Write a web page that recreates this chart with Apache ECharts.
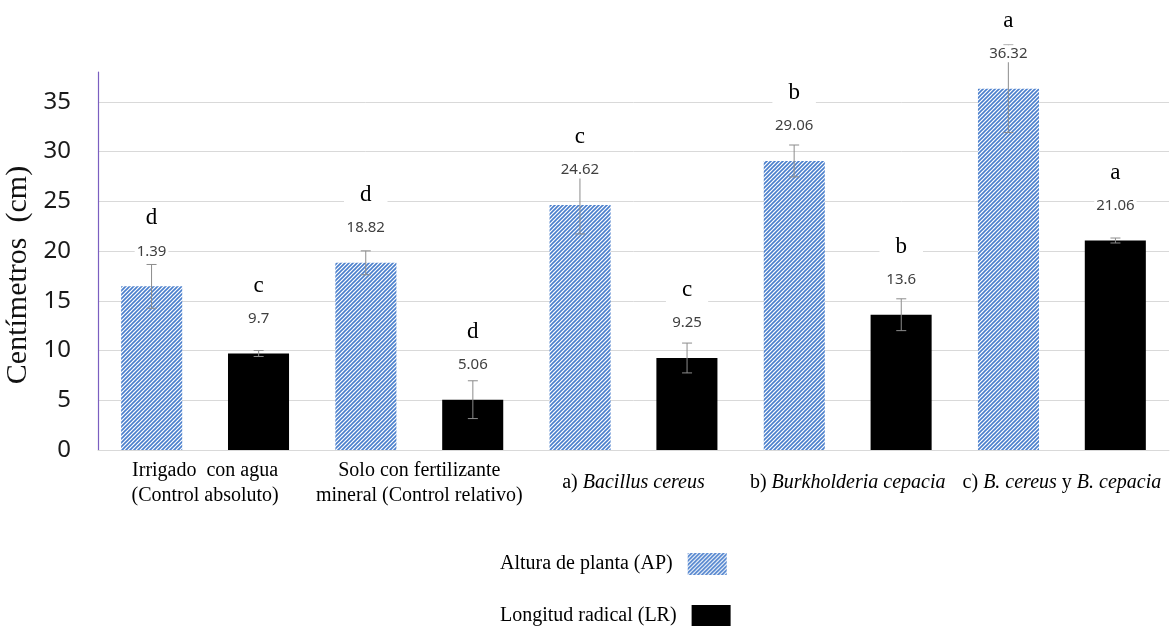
<!DOCTYPE html>
<html>
<head>
<meta charset="utf-8">
<script src="https://cdn.jsdelivr.net/npm/echarts@6/dist/echarts.min.js"></script>
<style>
html,body{margin:0;padding:0;background:#fff;}
#chart{width:1174px;height:626px;}
</style>
</head>
<body>
<div id="chart"></div>
<script>
// ---- data ----
const categories = [
  'Irrigado  con agua\n(Control absoluto)',
  'Solo con fertilizante\nmineral (Control relativo)',
  'a) Bacillus cereus',
  'b) Burkholderia cepacia',
  'c) B. cereus y B. cepacia'
];
const seriesNames = ['Altura de planta (AP)', 'Longitud radical (LR)'];
const apValues = [16.45, 18.82, 24.62, 29.06, 36.32];
const apLabels = ['1.39', '18.82', '24.62', '29.06', '36.32'];
const apErrors = [2.2, 1.2, 2.9, 1.6, 4.4];
const apLetters = ['d', 'd', 'c', 'b', 'a'];
const lrValues = [9.7, 5.06, 9.25, 13.6, 21.06];
const lrLabels = ['9.7', '5.06', '9.25', '13.6', '21.06'];
const lrErrors = [0.3, 1.9, 1.5, 1.6, 0.25];
const lrLetters = ['c', 'd', 'c', 'b', 'a'];
const yTicks = [0, 5, 10, 15, 20, 25, 30, 35];
const italicNames = ['Bacillus cereus', 'Burkholderia cepacia', 'B. cereus', 'B. cepacia'];

// ---- hatch pattern ----
function makeHatch() {
  const s = 4;
  const c = document.createElement('canvas');
  c.width = s; c.height = s;
  const ctx = c.getContext('2d');
  ctx.fillStyle = '#ffffff';
  ctx.fillRect(0, 0, s, s);
  ctx.strokeStyle = '#4a7fcc';
  ctx.lineWidth = 1.6;
  ctx.beginPath();
  ctx.moveTo(-s, 2 * s); ctx.lineTo(2 * s, -s);
  ctx.moveTo(-s, s); ctx.lineTo(s, -s);
  ctx.moveTo(0, 2 * s); ctx.lineTo(2 * s, 0);
  ctx.stroke();
  return { image: c, repeat: 'repeat' };
}
const hatch = makeHatch();

const chart = echarts.init(document.getElementById('chart'), null, { renderer: 'canvas' });

function labelFormatter(v) {
  const re = new RegExp('(' + italicNames.map(n => n.replace('.', '\\.')).join('|') + ')', 'g');
  return v.replace(re, '{i|$1}');
}

function makeOverlay(values, errors, labels, letters, side) {
  return {
    type: 'custom',
    z: 5,
    silent: true,
    data: values.map((v, i) => [i, v, errors[i]]),
    encode: { x: 0, y: 1 },
    renderItem: function (params, api) {
      const i = api.value(0);
      const v = api.value(1);
      const e = api.value(2);
      const band = api.size([1, 0])[0];
      const base = api.coord([i, v]);
      const x = base[0] + side * band / 4;
      const yTop = api.coord([i, v + e])[1];
      const yBot = api.coord([i, v - e])[1];
      const yBar = base[1];
      const cap = 5;
      const lineStyle = { stroke: '#8c8c8c', lineWidth: 1 };
      return {
        type: 'group',
        children: [
          { type: 'line', shape: { x1: x, y1: yTop, x2: x, y2: yBot }, style: lineStyle },
          { type: 'line', shape: { x1: x - cap, y1: yTop, x2: x + cap, y2: yTop }, style: lineStyle },
          { type: 'line', shape: { x1: x - cap, y1: yBot, x2: x + cap, y2: yBot }, style: lineStyle },
          {
            type: 'text',
            style: {
              text: labels[i], x: x, y: yBar - 35, align: 'center', verticalAlign: 'middle',
              font: '15px "Noto Sans"', fill: '#404040', backgroundColor: '#fff', padding: [1, 2]
            }
          },
          {
            type: 'text',
            style: {
              text: letters[i], x: x, y: yBar - 68, align: 'center', verticalAlign: 'middle',
              font: '23px "Liberation Serif"', fill: '#000', backgroundColor: '#fff', padding: [2, 16]
            }
          }
        ]
      };
    }
  };
}

const legendCommon = {
  orient: 'vertical',
  left: 495,
  align: 'right',
  itemWidth: 39,
  itemHeight: 22,
  icon: 'rect',
  textStyle: { fontFamily: 'Liberation Serif', fontSize: 20, color: '#000', padding: [0, 10, 0, 0] }
};

const option = {
  backgroundColor: '#fff',
  animation: false,
  grid: { left: 98, right: 5, top: 72, bottom: 176, containLabel: false, outerBoundsMode: 'none' },
  legend: [
    Object.assign({}, legendCommon, { top: 548, data: [seriesNames[0]] }),
    Object.assign({}, legendCommon, { top: 600, data: [seriesNames[1]] })
  ],
  xAxis: {
    type: 'category',
    data: categories,
    axisLine: { show: true, lineStyle: { color: '#d9d9d9' } },
    axisTick: { show: false },
    axisLabel: {
      interval: 0,
      margin: 33,
      verticalAlign: 'middle',
      lineHeight: 25,
      fontFamily: 'Liberation Serif',
      fontSize: 20,
      color: '#000',
      formatter: labelFormatter,
      rich: {
        i: { fontFamily: 'Liberation Serif', fontSize: 20, fontStyle: 'italic', color: '#000', lineHeight: 25 }
      }
    }
  },
  yAxis: {
    type: 'value',
    min: 0,
    max: 38,
    interval: 5,
    name: 'Centímetros  (cm)',
    nameLocation: 'middle',
    nameGap: 52,
    nameTextStyle: { fontFamily: 'Liberation Serif', fontSize: 30, color: '#111', padding: [0, 28, 0, 0] },
    axisLine: { show: true, onZero: false, lineStyle: { color: '#7b5fc0', width: 1.2 } },
    axisTick: { show: false },
    axisLabel: {
      margin: 27,
      fontFamily: 'Noto Sans',
      fontSize: 24,
      color: '#1a1a1a',
      showMaxLabel: false,
      formatter: function (v) { return yTicks.indexOf(v) >= 0 ? String(v) : ''; }
    },
    splitLine: { show: true, showMaxLine: false, lineStyle: { color: '#d9d9d9', width: 1 } }
  },
  series: [
    {
      name: seriesNames[0],
      type: 'bar',
      data: apValues,
      barWidth: '28.5%',
      barGap: '75%',
      itemStyle: { color: hatch }
    },
    {
      name: seriesNames[1],
      type: 'bar',
      data: lrValues,
      barWidth: '28.5%',
      barGap: '75%',
      itemStyle: { color: '#000' }
    },
    makeOverlay(apValues, apErrors, apLabels, apLetters, -1),
    makeOverlay(lrValues, lrErrors, lrLabels, lrLetters, 1)
  ]
};
chart.setOption(option);
</script>
</body>
</html>
